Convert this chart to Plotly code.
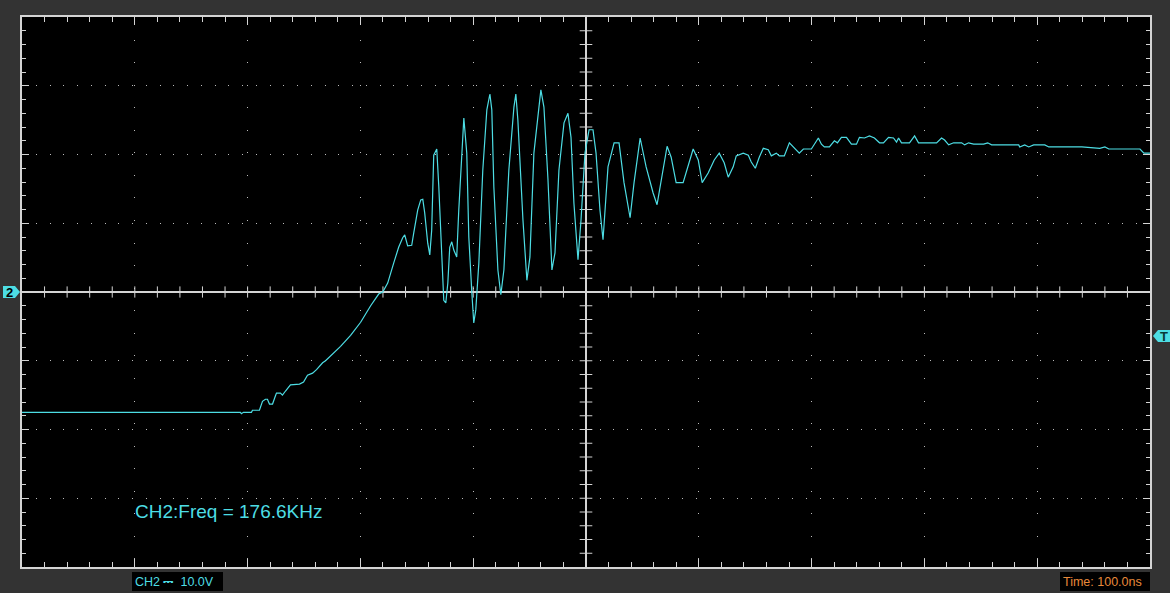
import numpy as np
import plotly.graph_objects as go

# CH2 capture, 100 ns/div, 10 V/div (trigger at centre)
t_ns = [-500, -306.4, -305.5, -303.7, -296.6, -295.7, -289.5, -286.8, -284.2, -282.4,
        -280.6, -277.9, -275.3, -274.4, -270.9, -269.1, -266.4, -262.0, -254.0, -250.4,
        -246.9, -242.4, -238.9, -236.2, -233.5, -230.9, -226.4, -217.6, -208.7, -199.8,
        -190.9, -183.8, -180.2, -175.8, -170.5, -166.1, -162.5, -160.7, -158.1, -154.5,
        -152.7, -149.2, -146.5, -144.7, -143.0, -140.3, -138.5, -136.8, -135.0, -132.3,
        -130.5, -127.9, -126.1, -124.3, -122.5, -120.8, -119.0, -117.2, -114.6, -112.8,
        -110.1, -108.3, -105.7, -103.9, -101.2, -99.5, -97.7, -95.0, -91.5, -87.9,
        -85.2, -83.5, -81.7, -78.1, -75.5, -72.8, -68.4, -63.9, -62.2, -60.4,
        -55.9, -52.4, -49.7, -46.2, -41.7, -40.0, -37.3, -33.7, -30.2, -27.5,
        -24.0, -19.5, -16.0, -13.3, -10.7, -7.1, -4.4, -0.9, 2.7, 6.2,
        8.9, 12.4, 15.1, 19.5, 24.9, 29.3, 33.7, 39.1, 42.6, 48.0,
        53.3, 59.5, 63.0, 66.6, 71.9, 75.5, 79.9, 86.1, 90.6, 95.0,
        99.5, 103.0, 108.3, 113.7, 118.1, 122.5, 126.1, 130.5, 133.2, 139.4,
        143.9, 146.5, 150.1, 153.6, 157.2, 161.6, 164.3, 168.7, 171.4, 175.8,
        180.3, 184.7, 189.1, 192.7, 199.8, 206.0, 208.7, 211.3, 215.8, 220.2,
        222.9, 226.4, 230.9, 235.3, 239.8, 242.4, 246.9, 251.3, 255.7, 260.2,
        263.7, 268.2, 272.6, 275.3, 277.1, 279.7, 286.8, 291.3, 294.8, 310.8,
        315.2, 317.9, 321.5, 325.9, 333.0, 335.7, 339.2, 343.7, 352.5, 356.1,
        359.6, 383.6, 384.5, 388.9, 392.5, 396.9, 406.7, 410.3, 415.6, 428.1,
        428.9, 439.6, 455.5, 460.0, 463.5, 491.1, 494.6, 500]
v_ch2 = [-17.5, -17.5, -17.7, -17.5, -17.5, -17.2, -17.2, -15.9, -15.6, -15.6,
         -16.3, -16.3, -15.1, -14.7, -14.7, -15.0, -14.4, -13.5, -13.4, -13.1,
         -12.1, -11.8, -11.3, -10.8, -10.3, -10.0, -9.3, -7.9, -6.3, -4.4,
         -2.0, -0.3, 0.0, 1.3, 4.2, 6.5, 7.9, 8.3, 6.7, 6.8,
         8.6, 11.9, 13.4, 13.5, 11.5, 7.1, 5.4, 9.0, 19.9, 20.8,
         15.3, 5.7, -1.2, -1.6, 1.3, 6.5, 7.3, 6.1, 5.1, 11.9,
         20.2, 25.3, 20.2, 8.0, -0.1, -4.5, -2.6, 4.2, 17.7, 26.5,
         28.8, 26.5, 15.3, 3.2, -0.4, 3.2, 17.7, 26.9, 28.8, 25.0,
         10.5, 1.7, 5.1, 20.2, 26.9, 29.4, 26.9, 16.3, 3.2, 5.7,
         17.7, 24.6, 26.0, 22.5, 12.9, 4.7, 10.5, 20.2, 23.6, 23.6,
         20.2, 11.9, 7.6, 18.2, 21.7, 21.7, 15.9, 10.8, 15.9, 22.4,
         18.2, 14.4, 12.7, 15.9, 21.2, 19.6, 15.9, 15.9, 18.2, 20.8,
         19.2, 15.9, 17.3, 19.2, 20.2, 18.8, 16.7, 18.2, 19.8, 20.2,
         19.9, 18.9, 18.0, 19.6, 20.9, 20.7, 19.8, 20.2, 19.8, 19.8,
         21.7, 20.9, 20.2, 20.8, 20.8, 22.4, 21.5, 21.1, 21.1, 22.0,
         21.7, 22.5, 22.5, 21.5, 21.5, 22.5, 22.4, 22.7, 22.4, 21.7,
         21.7, 22.5, 22.4, 21.8, 22.4, 21.7, 21.7, 22.7, 21.7, 21.7,
         22.4, 22.1, 21.4, 21.7, 21.7, 21.4, 21.7, 21.5, 21.5, 21.7,
         21.4, 21.4, 21.1, 21.4, 21.1, 21.4, 21.4, 21.1, 21.1, 21.2,
         21.1, 21.1, 20.9, 21.1, 20.8, 20.8, 20.2, 20.2]

ch2_offset = 0.0      # V, ground marker "2"
trig_level = -6.4     # V, trigger marker "T"
freq_label = "CH2:Freq = 176.6KHz"
volt_label = "CH2 \u2393  10.0V"
time_label = "Time: 100.0ns"

X_RANGE = [-500, 500]
Y_RANGE = [-40, 40]

# plot area in pixels
PL, PR, PT, PB = 22, 1150, 17, 567
W, H = PR - PL, PB - PT


def px(x):
    return (x - PL) / W


def py(y):
    return (PB - y) / H


def vy(v):
    return (v - Y_RANGE[0]) / (Y_RANGE[1] - Y_RANGE[0])


CYAN = "#4ddde4"
GRID = "#bcbcbc"
LINE = "#d4d4d4"
FONT = "Liberation Sans, Arial, DejaVu Sans"

fig = go.Figure()

# crossing ticks on the centre axes
xm = np.arange(-480, 500, 20)
xm = xm[xm != 0]
ym = np.arange(-38, 40, 2)
ym = ym[ym != 0]
fig.add_trace(go.Scatter(x=xm, y=np.zeros(len(xm)), mode="markers", hoverinfo="skip",
                         marker=dict(symbol="line-ns", size=8, line=dict(color=LINE, width=1))))
fig.add_trace(go.Scatter(x=np.zeros(len(ym)), y=ym, mode="markers", hoverinfo="skip",
                         marker=dict(symbol="line-ew", size=9, line=dict(color=LINE, width=1))))

fig.add_trace(go.Scatter(x=t_ns, y=v_ch2, mode="lines",
                         line=dict(color=CYAN, width=1.2), hoverinfo="skip"))

axis_common = dict(showgrid=True, gridcolor=GRID, gridwidth=1,
                   showticklabels=False, showline=True, linecolor=LINE, linewidth=2,
                   mirror="allticks", ticks="inside", tickcolor=LINE, tickwidth=1,
                   zeroline=True, zerolinecolor=LINE, zerolinewidth=1.5, fixedrange=True)

fig.update_xaxes(range=X_RANGE, tick0=0, dtick=100, ticklen=8, griddash="1px,21.56px",
                 minor=dict(dtick=20, ticks="inside", ticklen=5, tickcolor=LINE, showgrid=False),
                 **axis_common)
fig.update_yaxes(range=Y_RANGE, tick0=0, dtick=10, ticklen=7, griddash="1px,12.75px",
                 minor=dict(dtick=2, ticks="inside", ticklen=4, tickcolor=LINE, showgrid=False),
                 **axis_common)

shapes = []
# ground marker "2"
gy = vy(ch2_offset)
shapes.append(dict(type="path", xref="paper", yref="paper", fillcolor=CYAN, line_width=0,
                   path=f"M {px(3)},{gy + 6/H} L {px(15)},{gy + 6/H} L {px(20)},{gy} "
                        f"L {px(15)},{gy - 6/H} L {px(3)},{gy - 6/H} Z"))
# trigger marker "T"
ty = vy(trig_level)
shapes.append(dict(type="path", xref="paper", yref="paper", fillcolor=CYAN, line_width=0,
                   path=f"M {px(1170)},{ty + 6/H} L {px(1158)},{ty + 6/H} L {px(1153)},{ty} "
                        f"L {px(1158)},{ty - 6/H} L {px(1170)},{ty - 6/H} Z"))
# status boxes
shapes.append(dict(type="rect", xref="paper", yref="paper", fillcolor="black", line_width=0,
                   x0=px(132), x1=px(223), y0=py(591), y1=py(572)))
shapes.append(dict(type="rect", xref="paper", yref="paper", fillcolor="black", line_width=0,
                   x0=px(1060), x1=px(1150), y0=py(591), y1=py(572)))

txt = dict(xref="paper", yref="paper", showarrow=False, yanchor="middle")
annotations = [
    dict(text="<b>2</b>", x=px(9.5), y=gy, xanchor="center",
         font=dict(family=FONT, size=13, color="black"), **txt),
    dict(text="<b>T</b>", x=px(1164), y=ty, xanchor="center",
         font=dict(family=FONT, size=13, color="#083838"), **txt),
    dict(text=freq_label, x=px(133), y=py(511.5), xanchor="left",
         font=dict(family=FONT, size=19, color=CYAN), **txt),
    dict(text=volt_label, x=px(133), y=py(581.5), xanchor="left",
         font=dict(family=FONT, size=12.5, color=CYAN), **txt),
    dict(text=time_label, x=px(1061), y=py(581.5), xanchor="left",
         font=dict(family=FONT, size=12.5, color="#e8893a"), **txt),
]

fig.update_layout(width=1170, height=593, showlegend=False,
                  margin=dict(l=PL, r=1170 - PR, t=PT, b=593 - PB),
                  paper_bgcolor="#333333", plot_bgcolor="black",
                  shapes=shapes, annotations=annotations)

fig.write_html("out.html", config={"displayModeBar": False},
               post_script="document.body.style.margin='0';"
                           "document.body.style.background='#333333';"
                           "document.body.style.overflow='hidden';")
